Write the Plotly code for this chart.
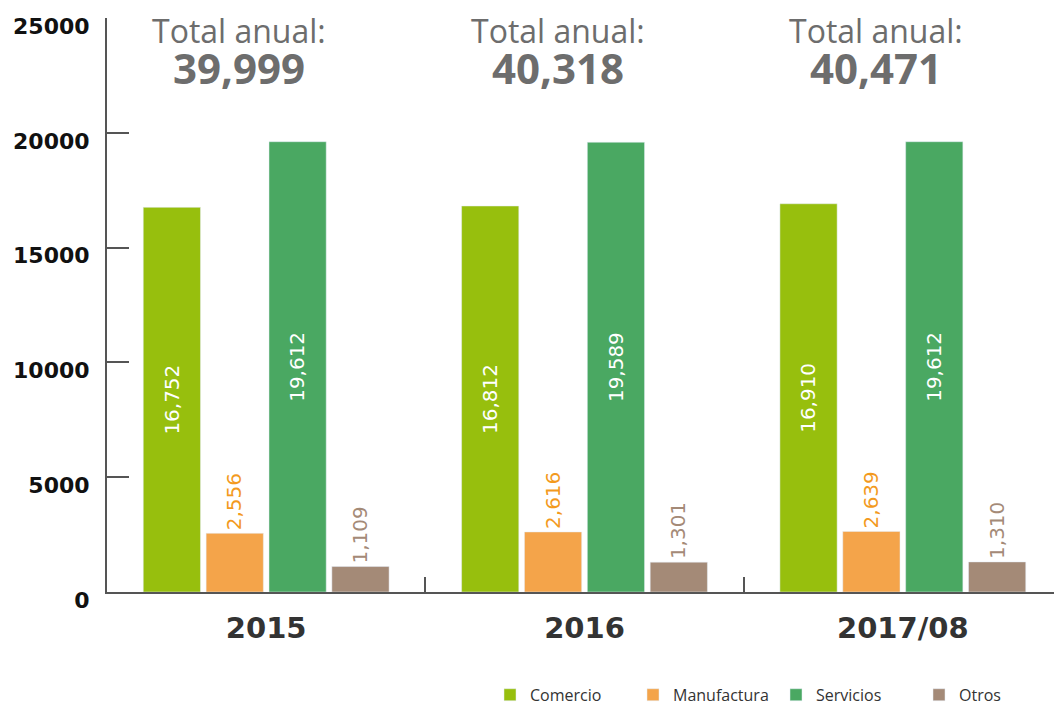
import plotly.graph_objects as go

years = ["2015", "2016", "2017/08"]
totals = ["39,999", "40,318", "40,471"]
comercio = [16752, 16812, 16910]
manufactura = [2556, 2616, 2639]
servicios = [19612, 19589, 19612]
otros = [1109, 1301, 1310]

series = [
    ("Comercio", comercio, "#97bf0d", "inside", "white"),
    ("Manufactura", manufactura, "#f4a44a", "outside", "#f39a1e"),
    ("Servicios", servicios, "#4aa862", "inside", "white"),
    ("Otros", otros, "#a48a77", "outside", "#a48a77"),
]

fig = go.Figure()
for name, vals, color, pos, tcolor in series:
    fig.add_trace(go.Bar(
        x=years, y=vals, name=name,
        marker=dict(color=color),
        text=["{:,}".format(v) for v in vals],
        textposition=pos, textangle=-90,
        insidetextanchor="middle",
        textfont=dict(color=tcolor, size=24, family="DejaVu Sans"),
        cliponaxis=False,
    ))

# category index used for annotation position (years look numeric)
for i, tot in enumerate(totals):
    fig.add_annotation(x=i, xshift=-27, yref="paper", y=0.978, yanchor="middle",
                       text="Total anual:", showarrow=False,
                       font=dict(size=32, color="#6d6d6d", family="Open Sans"))
    fig.add_annotation(x=i, xshift=-27, yref="paper", y=0.913, yanchor="middle",
                       text="<b>" + tot + "</b>", showarrow=False,
                       font=dict(size=42, color="#6d6d6d", family="Open Sans"))

# page body has an 8px margin, so the figure is 8px smaller than the window
fig.update_layout(
    width=1054, height=698,
    margin=dict(l=99, r=0, t=10, b=114),
    plot_bgcolor="white", paper_bgcolor="white",
    barmode="group", bargap=0.21, bargroupgap=0.09,
    uniformtext=dict(minsize=8, mode="show"),
    font=dict(family="Open Sans", color="#333333"),
    legend=dict(orientation="h", x=0.581, xanchor="left", yref="container", y=0.016,
                yanchor="middle", entrywidth=98, entrywidthmode="pixels",
                font=dict(size=16, color="#333333"), traceorder="normal"),
    xaxis=dict(type="category", range=[-0.5, 2.5], automargin=False,
               showline=True, linecolor="#555555", linewidth=2,
               ticks="inside", tickson="boundaries", ticklen=15, tickcolor="#555555",
               tickwidth=2, ticklabelstandoff=9, tickangle=0,
               tickfont=dict(size=29, color="#333333", family="DejaVu Sans", weight="bold")),
    yaxis=dict(range=[0, 25000], dtick=5000, tickformat="d", automargin=False,
               showgrid=False, zeroline=False,
               showline=True, linecolor="#555555", linewidth=2,
               ticks="inside", ticklen=22, tickcolor="#555555", tickwidth=2,
               ticklabelshift=8, ticklabelstandoff=11,
               tickfont=dict(size=22, color="#111111", family="DejaVu Sans", weight="bold")),
)

fig.write_html("out.html")
